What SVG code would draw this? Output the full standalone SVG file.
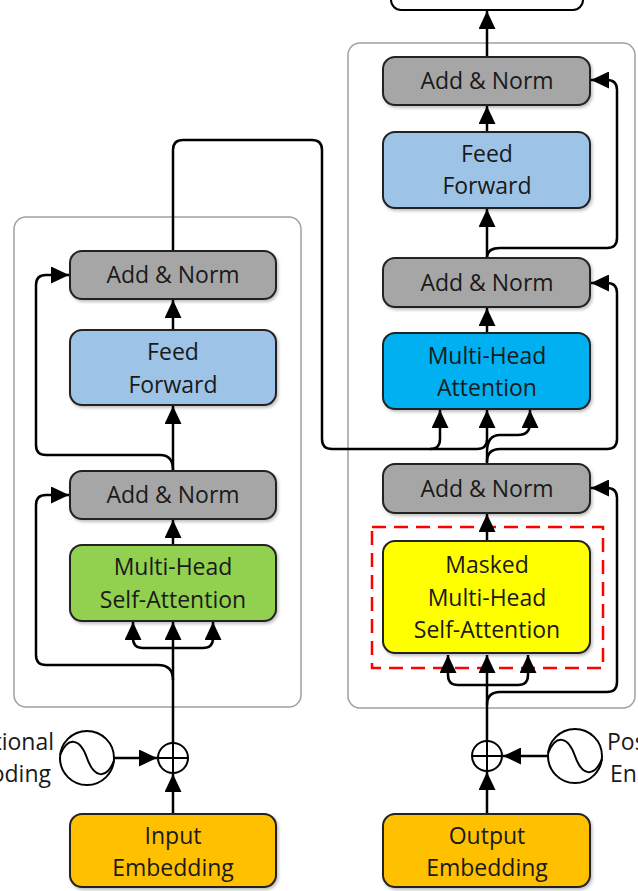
<svg xmlns="http://www.w3.org/2000/svg" width="638" height="891" viewBox="0 0 638 891">
<defs>
<marker id="arr" viewBox="0 0 18 17" refX="18" refY="8.5" markerWidth="18" markerHeight="17" markerUnits="userSpaceOnUse" orient="auto">
<path d="M0,0 L18,8.5 L0,17 z" fill="#000"/>
</marker>
<filter id="sh" x="-10%" y="-10%" width="130%" height="140%">
<feDropShadow dx="1.5" dy="2" stdDeviation="1.5" flood-color="#000" flood-opacity="0.25"/>
</filter>
</defs>
<style>
.frame{fill:none;stroke:#a0a0a0;stroke-width:1.5}
.box{stroke:#222;stroke-width:2;filter:url(#sh)}
.gray{fill:#a6a6a6}
.lblue{fill:#9dc3e6}
.green{fill:#92d050}
.blue{fill:#00b0f0}
.yellow{fill:#ffff00}
.orange{fill:#ffc000}
.t{font-family:"Open Sans","Liberation Sans",sans-serif;font-size:23px;fill:#1a1a1a;text-anchor:middle}
.c{fill:none;stroke:#000;stroke-width:2.5}
.a{marker-end:url(#arr)}
.ring{fill:#fff;stroke:#000;stroke-width:2}
</style>
<rect class="frame" x="14" y="217" width="287" height="490" rx="12"/>
<rect class="frame" x="348" y="43" width="287" height="665" rx="12"/>
<rect x="372" y="527" width="231" height="141" fill="none" stroke="#ff0000" stroke-width="2.5" stroke-dasharray="14 8"/>
<rect id="next-block" x="391" y="-40" width="192" height="50" rx="10" fill="none" stroke="#000" stroke-width="2"/>
<g id="connectors">
<path class="c a" d="M173,814 V774"/>
<path class="c a" d="M114,758 H157"/>
<path class="c a" d="M173,743 V622"/>
<path class="c a" d="M173,648 H143 Q133,648 133,638 V622"/>
<path class="c a" d="M173,648 H203 Q213,648 213,638 V622"/>
<path class="c a" d="M173,680 Q173,665 158,665 H46 Q36,665 36,655 V505 Q36,495 46,495 H69"/>
<path class="c a" d="M173,545 V520"/>
<path class="c a" d="M173,471 V406"/>
<path class="c a" d="M173,470 Q173,455 160,455 H46 Q36,455 36,445 V285 Q36,275 46,275 H69"/>
<path class="c a" d="M173,330 V300"/>
<path class="c a" d="M173,251 V150 Q173,140 183,140 H312 Q322,140 322,150 V439 Q322,449 332,449 H430 Q440,449 440,439 V410"/>
<path class="c a" d="M430,449 H477 Q487,449 487,439 V410"/>
<path class="c a" d="M487,464 V452 Q487,435 500,435 H518 Q530,435 530,423 V410"/>
<path class="c a" d="M487,462 Q487,449 500,449 H607 Q617,449 617,439 V293 Q617,283 607,283 H591"/>
<path class="c a" d="M487,333 V308"/>
<path class="c a" d="M487,258 V209"/>
<path class="c a" d="M487,258 Q487,248 500,248 H607 Q617,248 617,238 V90 Q617,80 607,80 H591"/>
<path class="c a" d="M487,132 V106"/>
<path class="c a" d="M487,57 V11"/>
<path class="c a" d="M487,541 V514"/>
<path class="c a" d="M487,741 V655"/>
<path class="c a" d="M487,685 H458 Q448,685 448,675 V655"/>
<path class="c a" d="M487,685 H518 Q528,685 528,675 V655"/>
<path class="c a" d="M487,705 Q487,692 500,692 H607 Q617,692 617,682 V498 Q617,488 607,488 H591"/>
<path class="c a" d="M487,814 V772"/>
<path class="c a" d="M548,756 H503"/>
</g>
<g id="enc-addnorm2"><rect class="box gray" x="70" y="251" width="206" height="48" rx="12"/><text class="t" x="173" y="283">Add &amp; Norm</text></g>
<g id="enc-ff"><rect class="box lblue" x="70" y="330" width="206" height="75" rx="12"/><text class="t" x="173" y="360">Feed</text><text class="t" x="173" y="393">Forward</text></g>
<g id="enc-addnorm1"><rect class="box gray" x="70" y="471" width="206" height="48" rx="12"/><text class="t" x="173" y="503">Add &amp; Norm</text></g>
<g id="enc-mhsa"><rect class="box green" x="70" y="545" width="206" height="76" rx="12"/><text class="t" x="173" y="575">Multi-Head</text><text class="t" x="173" y="608">Self-Attention</text></g>
<g id="enc-plus"><circle class="ring" cx="173" cy="758" r="15"/><path d="M158,758 H188 M173,743 V773" stroke="#000" stroke-width="2"/></g>
<g id="enc-pe"><circle class="ring" cx="87" cy="758" r="27"/><path d="M60,755 C68,736 80,738 87,758 C94,778 106,780 114,761" fill="none" stroke="#000" stroke-width="2"/><text class="t" x="54" y="750" text-anchor="end" style="text-anchor:end">Positional</text><text class="t" x="51" y="782" style="text-anchor:end">Encoding</text></g>
<g id="enc-input"><rect class="box orange" x="70" y="814" width="206" height="73" rx="12"/><text class="t" x="173" y="844">Input</text><text class="t" x="173" y="876">Embedding</text></g>
<g id="dec-addnorm3"><rect class="box gray" x="383" y="57" width="207" height="48" rx="12"/><text class="t" x="487" y="89">Add &amp; Norm</text></g>
<g id="dec-ff"><rect class="box lblue" x="383" y="132" width="207" height="76" rx="12"/><text class="t" x="487" y="162">Feed</text><text class="t" x="487" y="194">Forward</text></g>
<g id="dec-addnorm2"><rect class="box gray" x="383" y="258" width="207" height="49" rx="12"/><text class="t" x="487" y="291">Add &amp; Norm</text></g>
<g id="dec-mha"><rect class="box blue" x="383" y="333" width="207" height="76" rx="12"/><text class="t" x="487" y="364">Multi-Head</text><text class="t" x="487" y="396">Attention</text></g>
<g id="dec-addnorm1"><rect class="box gray" x="383" y="464" width="207" height="49" rx="12"/><text class="t" x="487" y="497">Add &amp; Norm</text></g>
<g id="dec-masked"><rect class="box yellow" x="383" y="541" width="207" height="112" rx="12"/><text class="t" x="487" y="573">Masked</text><text class="t" x="487" y="606">Multi-Head</text><text class="t" x="487" y="638">Self-Attention</text></g>
<g id="dec-plus"><circle class="ring" cx="487" cy="756" r="15"/><path d="M472,756 H502 M487,741 V771" stroke="#000" stroke-width="2"/></g>
<g id="dec-pe"><circle class="ring" cx="575" cy="756" r="27"/><path d="M548,753 C556,734 568,736 575,756 C582,776 594,778 602,759" fill="none" stroke="#000" stroke-width="2"/><text class="t" x="607" y="750" style="text-anchor:start">Positional</text><text class="t" x="610" y="782" style="text-anchor:start">Encoding</text></g>
<g id="dec-output"><rect class="box orange" x="383" y="814" width="207" height="73" rx="12"/><text class="t" x="487" y="844">Output</text><text class="t" x="487" y="876">Embedding</text></g>
</svg>
